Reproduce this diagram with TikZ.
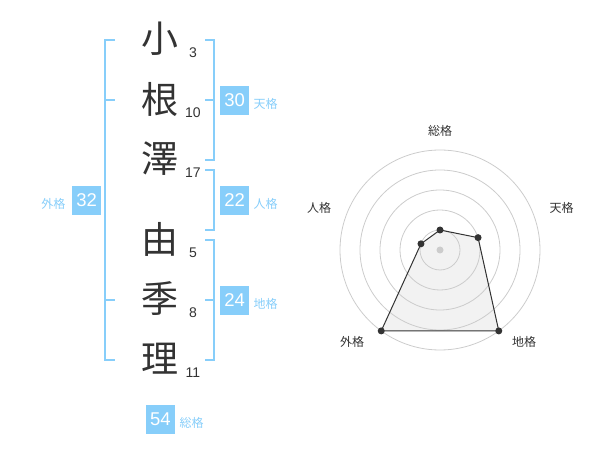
\documentclass[tikz,border=0pt]{standalone}
\usepackage{fontspec}
\setmainfont{Liberation Sans}
\newfontfamily\jpfont{Noto Sans CJK JP}
\usetikzlibrary{calc}
\definecolor{kakublue}{RGB}{135,206,250}
\definecolor{inkgray}{RGB}{51,51,51}
\definecolor{ringgray}{RGB}{204,204,204}
\definecolor{areagray}{RGB}{242,242,242}

\begin{document}
\begin{tikzpicture}[x=1pt,y=-1pt,
	kanji/.style={font=\jpfont\fontsize{37}{37}\selectfont,text=inkgray,inner sep=0},
	strokes/.style={font=\fontsize{14}{14}\selectfont,text=inkgray,inner sep=0},
	kakubox/.style={fill=kakublue,text=white,minimum size=29pt,inner sep=0,font=\fontsize{18.5}{18.5}\selectfont},
	kakulabel/.style={font=\jpfont\fontsize{12}{12}\selectfont,text=kakublue,inner sep=0},
	bracket/.style={draw=kakublue,line width=2pt},
	axislabel/.style={font=\jpfont\fontsize{12}{12}\selectfont,text=inkgray,inner sep=0}]

	\useasboundingbox (0,0) rectangle (600,470);

	% name
	\node[kanji] (k1) at (160,39) {小};
	\node[kanji] (k2) at (160,99) {根};
	\node[kanji] (k3) at (160,159) {澤};
	\node[kanji] (k4) at (160,239) {由};
	\node[kanji] (k5) at (160,299) {季};
	\node[kanji] (k6) at (160,359) {理};

	\node[strokes] (s1) at (193,52.5) {3};
	\node[strokes] (s2) at (193,112.5) {10};
	\node[strokes] (s3) at (193,172.5) {17};
	\node[strokes] (s4) at (193,252.5) {5};
	\node[strokes] (s5) at (193,312.5) {8};
	\node[strokes] (s6) at (193,372.5) {11};

	% brackets
	\draw[bracket] (115,40) -- (105,40) -- (105,360) -- (115,360);
	\draw[bracket] (105,100) -- (115,100);
	\draw[bracket] (105,300) -- (115,300);
	\draw[bracket] (205,40) -- (214,40) -- (214,160) -- (205,160);
	\draw[bracket] (205,100) -- (214,100);
	\draw[bracket] (205,170) -- (214,170) -- (214,230) -- (205,230);
	\draw[bracket] (205,240) -- (214,240) -- (214,360) -- (205,360);
	\draw[bracket] (205,300) -- (214,300);

	\node[kakubox] (ten) at (234.7,100.5) {30};
	\node[kakulabel] (tenl) at (265.7,104) {天格};
	\node[kakubox] (jin) at (234.7,200.5) {22};
	\node[kakulabel] (jinl) at (265.7,204) {人格};
	\node[kakubox] (chi) at (234.7,300.5) {24};
	\node[kakulabel] (chil) at (265.7,304) {地格};
	\node[kakubox] (gai) at (86.7,200.5) {32};
	\node[kakulabel] (gail) at (53.3,204) {外格};
	\node[kakubox] (sou) at (160.5,419) {54};
	\node[kakulabel] (soul) at (191.7,422.5) {総格};

	% radar
	\coordinate (c) at (440,250);
	\coordinate (psou) at ($(c)+(-90:20)$);
	\coordinate (pten) at ($(c)+(-18:40)$);
	\coordinate (pchi) at ($(c)+(54:100)$);
	\coordinate (pgai) at ($(c)+(126:100)$);
	\coordinate (pjin) at ($(c)+(198:20)$);

	\fill[areagray] (psou) -- (pten) -- (pchi) -- (pgai) -- (pjin) -- cycle;
	\foreach \r in {20,40,60,80,100}
		\draw[ringgray,line width=0.8pt] (c) circle (\r pt);
	\draw[inkgray,line width=1pt] (psou) -- (pten) -- (pchi) -- (pgai) -- (pjin) -- cycle;
	\foreach \p in {psou,pten,pchi,pgai,pjin}
		\fill[inkgray] (\p) circle (3.5pt);
	\fill[ringgray] (c) circle (3.5pt);

	\node[axislabel] (asou) at (440,130.5) {総格};
	\node[axislabel] (aten) at (561.5,208) {天格};
	\node[axislabel] (achi) at (524,341.5) {地格};
	\node[axislabel] (agai) at (352,341.5) {外格};
	\node[axislabel] (ajin) at (319,208) {人格};

\end{tikzpicture}
\end{document}
